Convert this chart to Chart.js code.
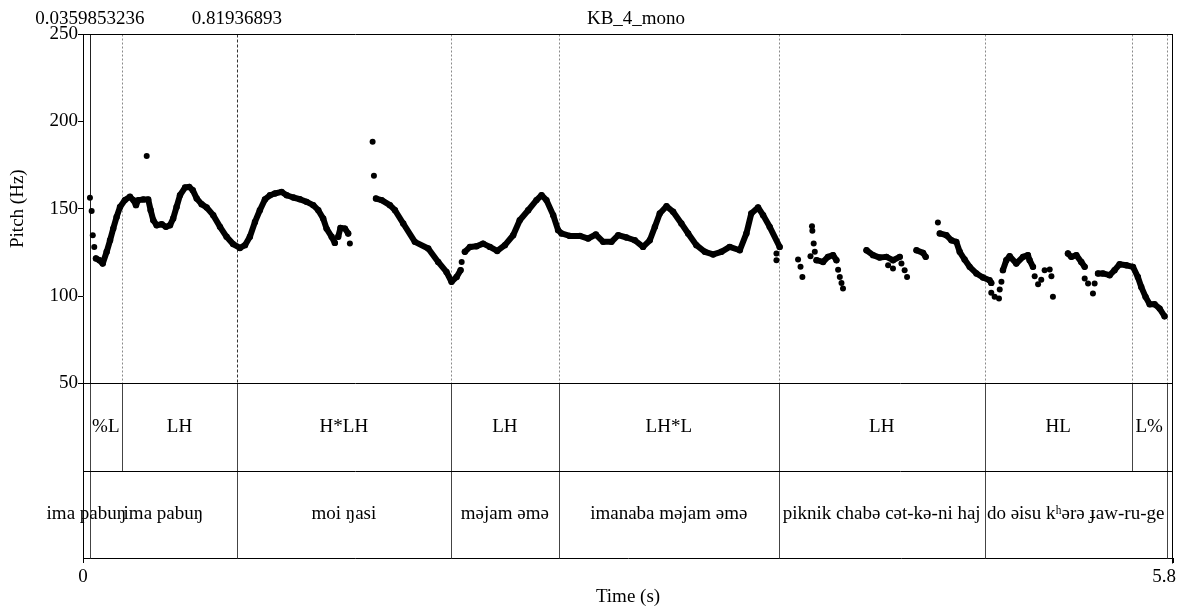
<!DOCTYPE html>
<html>
<head>
<meta charset="utf-8">
<script src="https://cdn.jsdelivr.net/npm/chart.js@4.4.1/dist/chart.umd.min.js"></script>
<style>
  html, body { margin: 0; padding: 0; background: #fff; }
  canvas { display: block; }
</style>
</head>
<body>
<canvas id="pitch" width="1179" height="608"></canvas>
<script>
// ---- recording / annotation ----
const titleText = 'KB_4_mono';
const markedTimes = [0.0359853236, 0.81936893];
const pitchTicks = [50, 100, 150, 200, 250];
const timeTicks = [0, 5.8];

// tone tier (upper row)
const toneBounds = [0, 0.0359853236, 0.207, 0.81936893, 1.957, 2.532, 3.702, 4.798, 5.58, 5.766, 5.8];
const toneLabels = ['', '%L', 'LH', 'H*LH', 'LH', 'LH*L', 'LH', 'HL', 'L%', ''];

// word tier (lower row)
const wordBounds = [0, 0.0359853236, 0.81936893, 1.957, 2.532, 3.702, 4.798, 5.766, 5.8];
const wordLabels = ['ima pabuŋ', 'ima pabuŋ', 'moi ŋasi', 'məjam əmə', 'imanaba məjam əmə',
                    'piknik chabə cət-kə-ni haj', 'do əisu kʰərə ɟaw-ru-ge', ''];

// ---- pitch track: continuous voiced stretches (null = break) ----
const contourTimes = [
  0.069, 0.087, 0.105, 0.126, 0.144, 0.161, 0.179, 0.197, 0.223, 0.250, 0.268, 0.282, 0.294, 0.321, 0.347,
  0.360, 0.374, 0.392, 0.419, 0.441, 0.463, 0.480, 0.498, 0.516, 0.543, 0.565, 0.584, 0.605, 0.631, 0.658,
  0.693, 0.729, 0.764, 0.799, 0.835, 0.862, 0.888, 0.915, 0.941, 0.968, 0.995, 1.021, 1.057, 1.084, 1.119,
  1.154, 1.190, 1.225, 1.252, 1.278, 1.296, 1.323, 1.340, null,
  1.358, 1.370, 1.394, 1.411, null,
  1.559, 1.589, 1.633, 1.660, 1.704, 1.766, 1.837, 1.890, 1.934, 1.961, 1.988, 2.009, null,
  2.032, 2.059, 2.094, 2.129, 2.165, 2.204, 2.245, 2.289, 2.324, 2.369, 2.413, 2.440, 2.466, 2.502, 2.528,
  2.546, 2.590, 2.644, 2.688, 2.729, 2.768, 2.812, 2.848, 2.892, 2.936, 2.980, 3.016, 3.043, 3.069, 3.105,
  3.140, 3.184, 3.220, 3.264, 3.309, 3.353, 3.397, 3.441, 3.495, 3.530, 3.556, 3.592, 3.619, 3.654, 3.707, null,
  3.903, 3.938, 3.964, 3.991, 4.009, null,
  4.169, 4.204, 4.239, 4.275, 4.310, 4.346, null,
  4.435, 4.470, 4.484, null,
  4.559, 4.594, 4.621, 4.647, 4.665, 4.691, 4.718, 4.754, 4.789, 4.824, 4.833, null,
  4.895, 4.913, 4.931, 4.966, 5.002, 5.028, 5.037, 5.055, null,
  5.241, 5.259, 5.286, 5.312, 5.330, null,
  5.401, 5.427, 5.463, 5.489, 5.516, 5.551, 5.587, 5.613, 5.631, 5.654, 5.676, 5.702, 5.729, 5.755
];
const contourHz = [
  121.5, 120.5, 118.6, 125.3, 131.9, 138.6, 145.3, 151.0, 154.9, 156.8, 154.9, 152.0, 154.9, 155.3, 155.3,
  149.1, 143.4, 140.5, 141.1, 139.6, 140.5, 144.4, 151.0, 157.7, 162.1, 162.5, 160.6, 155.8, 152.6, 150.7,
  146.3, 139.6, 133.9, 129.7, 127.5, 129.1, 133.9, 142.4, 149.1, 155.3, 157.7, 158.7, 159.6, 157.7, 156.4,
  155.4, 153.9, 152.0, 149.1, 144.4, 138.6, 133.9, 130.4, null,
  133.9, 139.0, 138.6, 135.8, null,
  155.8, 154.9, 152.0, 149.1, 141.5, 131.0, 127.2, 119.5, 113.8, 108.1, 110.9, 114.8, null,
  125.3, 128.1, 128.5, 130.0, 128.1, 125.8, 129.1, 134.8, 143.4, 149.1, 154.9, 157.7, 154.9, 146.3, 137.7,
  135.8, 134.4, 134.4, 132.9, 135.2, 131.0, 131.0, 134.8, 133.5, 131.9, 128.1, 131.9, 139.6, 147.2, 151.4,
  148.2, 141.5, 135.8, 129.1, 125.3, 123.8, 125.3, 128.1, 126.2, 135.8, 147.2, 150.7, 146.3, 139.6, 128.1, null,
  120.5, 119.5, 122.4, 123.4, 120.5, null,
  126.2, 123.4, 122.0, 122.4, 120.5, 122.4, null,
  126.2, 124.7, 122.4, null,
  135.8, 134.8, 131.9, 131.0, 125.3, 120.9, 116.7, 112.9, 110.6, 109.0, 107.5, null,
  114.8, 120.5, 122.8, 118.6, 122.4, 123.4, 120.5, 116.7, null,
  124.3, 122.4, 123.4, 119.5, 116.7, null,
  112.9, 112.9, 111.9, 114.8, 118.2, 117.6, 116.7, 110.9, 105.2, 99.5, 95.3, 95.3, 92.8, 88.4
];

// ---- pitch track: isolated frames ----
const dotTimes = [
  0.037, 0.046, 0.052, 0.060, 0.339, 1.420, 1.541, 1.548, 2.015, 3.690, 3.690, 3.805, 3.818, 3.828,
  3.871, 3.879, 3.881, 3.888, 3.894, 4.018, 4.027, 4.036, 4.044, 4.284, 4.310, 4.355, 4.372, 4.385,
  4.549, 4.833, 4.851, 4.874, 4.878, 4.887, 5.064, 5.082, 5.099, 5.117, 5.144, 5.153, 5.161,
  5.330, 5.348, 5.374, 5.383
];
const dotHz = [
  156.2, 148.6, 134.8, 128.1, 180.1, 130.0, 188.3, 168.8, 119.5, 124.3, 120.5, 120.9, 116.7, 110.9,
  122.8, 140.0, 137.3, 130.0, 125.3, 115.1, 110.9, 107.5, 104.3, 117.6, 115.7, 118.6, 114.8, 110.9,
  142.1, 101.8, 99.5, 98.5, 103.7, 108.1, 111.3, 106.7, 109.3, 114.8, 115.2, 111.3, 99.5,
  110.0, 107.1, 101.4, 107.1
];

// ---- build chart data ----
const contourPoints = contourTimes.map((t, i) =>
  t === null ? { x: contourTimes[i - 1], y: null } : { x: t, y: contourHz[i] });
const dotPoints = dotTimes.map((t, i) => ({ x: t, y: dotHz[i] }));

const FONT = "'Liberation Serif', 'Times New Roman', serif";
const FONT_SIZE = 19;

// pitch panel spans 50..250 Hz; the two annotation rows sit below it on the same axis
const PITCH_MIN = 50, PITCH_MAX = 250, ROW_H = 50;
const TONE_ROW = [PITCH_MIN - ROW_H, PITCH_MIN];
const WORD_ROW = [PITCH_MIN - 2 * ROW_H, PITCH_MIN - ROW_H];

function hline(ctx, x1, x2, y) { ctx.beginPath(); ctx.moveTo(x1, y); ctx.lineTo(x2, y); ctx.stroke(); }
function vline(ctx, x, y1, y2) { ctx.beginPath(); ctx.moveTo(x, y1); ctx.lineTo(x, y2); ctx.stroke(); }
const crisp = v => Math.round(v) + 0.5;

const textGridPlugin = {
  id: 'textGrid',
  beforeDatasetsDraw(chart) {
    const { ctx, chartArea: a, scales: { x, y } } = chart;
    const yTop = crisp(y.getPixelForValue(PITCH_MAX));
    const yPitchBot = crisp(y.getPixelForValue(PITCH_MIN));
    const yMid = crisp(y.getPixelForValue(TONE_ROW[0]));
    const yBot = crisp(y.getPixelForValue(WORD_ROW[0]));
    ctx.save();

    // boundary lines through the pitch panel
    const allBounds = Array.from(new Set([...toneBounds, ...wordBounds]))
      .filter(t => t > timeTicks[0] && t < timeTicks[1]);
    allBounds.forEach(t => {
      const px = crisp(x.getPixelForValue(t));
      const mi = markedTimes.indexOf(t);
      if (mi === 0) { ctx.setLineDash([]); ctx.strokeStyle = '#222'; }
      else if (mi === 1) { ctx.setLineDash([3, 2]); ctx.strokeStyle = '#333'; }
      else { ctx.setLineDash([2, 2]); ctx.strokeStyle = '#8a8a8a'; }
      ctx.lineWidth = 1;
      vline(ctx, px, yTop, yPitchBot);
    });
    ctx.setLineDash([]);

    // interval boundaries inside the two rows
    ctx.strokeStyle = '#444';
    ctx.lineWidth = 1;
    toneBounds.slice(1, -1).forEach(t => vline(ctx, crisp(x.getPixelForValue(t)), yPitchBot, yMid));
    wordBounds.slice(1, -1).forEach(t => vline(ctx, crisp(x.getPixelForValue(t)), yMid, yBot));

    // frame
    ctx.strokeStyle = '#000';
    ctx.lineWidth = 1;
    hline(ctx, a.left, a.right, yTop);
    hline(ctx, a.left, a.right, yPitchBot);
    hline(ctx, a.left, a.right, yMid);
    vline(ctx, crisp(a.right - 1), yTop, yBot + 5);
    ctx.restore();
  },
  afterDraw(chart) {
    const { ctx, chartArea: a, scales: { x, y } } = chart;
    ctx.save();
    ctx.fillStyle = '#000';
    ctx.font = `${FONT_SIZE}px ${FONT}`;
    ctx.textBaseline = 'middle';
    ctx.textAlign = 'center';

    // row labels
    const toneY = y.getPixelForValue((TONE_ROW[0] + TONE_ROW[1]) / 2);
    toneLabels.forEach((lab, i) => {
      if (!lab) return;
      const cx = (x.getPixelForValue(toneBounds[i]) + x.getPixelForValue(toneBounds[i + 1])) / 2;
      ctx.fillText(lab, cx, toneY);
    });
    const wordY = y.getPixelForValue((WORD_ROW[0] + WORD_ROW[1]) / 2);
    wordLabels.forEach((lab, i) => {
      if (!lab) return;
      const cx = (x.getPixelForValue(wordBounds[i]) + x.getPixelForValue(wordBounds[i + 1])) / 2;
      ctx.fillText(lab, cx, wordY);
    });

    // marked times and file name along the top
    ctx.textBaseline = 'alphabetic';
    markedTimes.forEach(t => ctx.fillText(String(t), x.getPixelForValue(t), 24));
    ctx.fillText(titleText, (a.left + a.right) / 2 + 8, 24);

    // time axis end labels
    timeTicks.forEach(t => {
      const s = String(t);
      const w = ctx.measureText(s).width;
      const cx = Math.min(x.getPixelForValue(t), chart.width - 3 - w / 2);
      ctx.fillText(s, cx, 582);
    });

    // vertical axis title, centred on the pitch panel
    const cy = (y.getPixelForValue(PITCH_MIN) + y.getPixelForValue(PITCH_MAX)) / 2;
    ctx.translate(18, cy);
    ctx.rotate(-Math.PI / 2);
    ctx.textBaseline = 'middle';
    ctx.fillText('Pitch (Hz)', 0, 0);
    ctx.restore();
  }
};

new Chart(document.getElementById('pitch'), {
  type: 'scatter',
  data: {
    datasets: [
      {
        label: 'contour',
        data: contourPoints,
        showLine: true,
        spanGaps: false,
        borderColor: '#000',
        backgroundColor: '#000',
        borderWidth: 6,
        borderCapStyle: 'round',
        borderJoinStyle: 'round',
        pointRadius: 3.2,
        pointBorderWidth: 0,
        pointHoverRadius: 3.2
      },
      {
        label: 'frames',
        data: dotPoints,
        showLine: false,
        backgroundColor: '#000',
        borderColor: '#000',
        pointRadius: 3,
        pointBorderWidth: 0,
        pointHoverRadius: 3
      }
    ]
  },
  options: {
    responsive: false,
    animation: false,
    events: [],
    layout: { padding: { left: 0, top: 34, right: 6, bottom: 0 } },
    plugins: { legend: { display: false }, tooltip: { enabled: false }, title: { display: false } },
    scales: {
      x: {
        type: 'linear',
        min: timeTicks[0],
        max: timeTicks[1],
        afterBuildTicks: s => { s.ticks = timeTicks.map(v => ({ value: v })); },
        afterFit: s => { s.height = 50; },
        grid: { drawOnChartArea: false, drawTicks: true, tickLength: 5, color: '#000' },
        border: { display: true, color: '#000', width: 1 },
        ticks: { display: false },
        title: {
          display: true, text: 'Time (s)', color: '#000',
          font: { family: FONT, size: FONT_SIZE }, padding: { top: 0, bottom: 0 }
        }
      },
      y: {
        type: 'linear',
        min: WORD_ROW[0],
        max: PITCH_MAX,
        afterBuildTicks: s => { s.ticks = pitchTicks.map(v => ({ value: v })); },
        afterFit: s => { s.width = 83; },
        grid: { drawOnChartArea: false, drawTicks: true, tickLength: 5, color: '#000' },
        border: { display: true, color: '#000', width: 1 },
        ticks: { color: '#000', padding: 0, font: { family: FONT, size: FONT_SIZE } }
      }
    }
  },
  plugins: [textGridPlugin]
});
</script>
</body>
</html>
